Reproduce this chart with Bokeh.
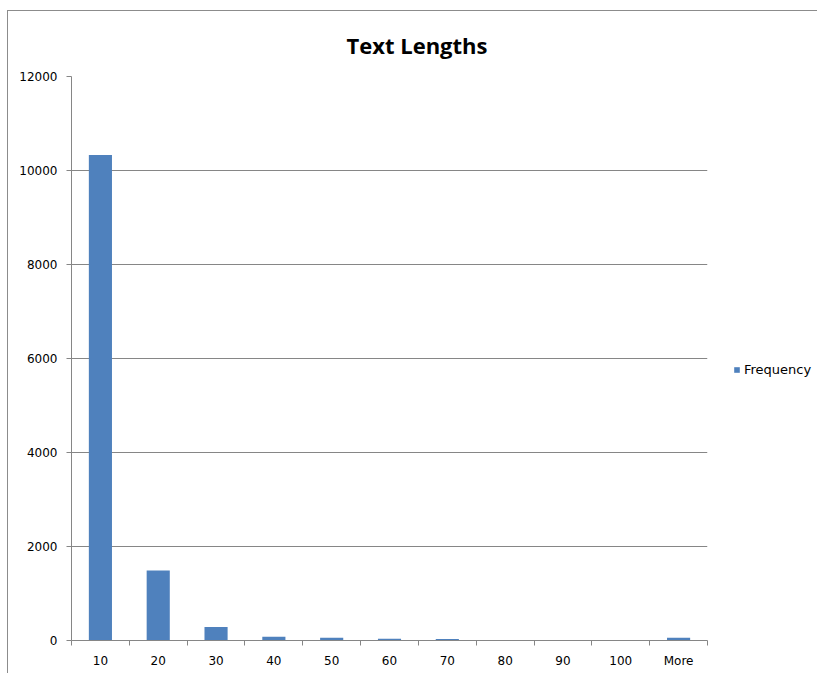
from bokeh.plotting import figure
from bokeh.models import (ColumnDataSource, Range1d, FixedTicker, Legend, LegendItem)
from bokeh.embed import file_html
from bokeh.resources import INLINE

# Histogram of text lengths (bin upper edges)
bins = ["10", "20", "30", "40", "50", "60", "70", "80", "90", "100", "More"]
frequency = [10330, 1490, 285, 80, 60, 35, 30, 0, 0, 0, 60]
y_ticks = [0, 2000, 4000, 6000, 8000, 10000, 12000]

GRAY = "#868686"
BLUE = "#4F81BD"
TICK_FONT = "DejaVu Sans"

centers = [i + 0.5 for i in range(len(bins))]
source = ColumnDataSource(dict(x=centers, top=frequency, label=bins))

p = figure(
    width=809, height=662,
    frame_width=636, frame_height=564,
    x_range=Range1d(0, len(bins)), y_range=Range1d(0, 12000),
    output_backend="svg", toolbar_location=None,
    min_border_left=63, min_border_right=110,
    min_border_top=65, min_border_bottom=33,
    title="Text Lengths",
)
p.styles = {
    "margin-left": "7px", "margin-top": "10px",
    "border-left": "1px solid #8c8c8c", "border-top": "1px solid #8c8c8c",
}
p.outline_line_color = None
p.background_fill_color = "white"
p.border_fill_color = "white"

p.title.align = "left"
p.title.offset = 275
p.title.standoff = 30
p.title.vertical_align = "top"
p.title.text_font = "Open Sans"
p.title.text_font_size = "22px"
p.title.text_font_style = "bold"
p.title.text_color = "black"

bars = p.vbar(x="x", top="top", width=0.4, source=source,
              fill_color=BLUE, line_color=None)

# x axis: labels at bin centres, tick marks at bin boundaries
xa = p.xaxis[0]
xa.ticker = FixedTicker(ticks=centers, minor_ticks=list(range(len(bins) + 1)))
xa.major_label_overrides = {c: b for c, b in zip(centers, bins)}
xa.major_tick_line_color = None
xa.major_tick_out = 0
xa.major_tick_in = 0
xa.minor_tick_line_color = GRAY
xa.minor_tick_out = 5
xa.minor_tick_in = 0
xa.axis_line_color = GRAY
xa.major_label_text_font = TICK_FONT
xa.major_label_text_font_size = "12px"
xa.major_label_text_color = "black"
xa.major_label_standoff = 8

ya = p.yaxis[0]
ya.ticker = FixedTicker(ticks=y_ticks)
ya.major_tick_line_color = GRAY
ya.major_tick_out = 5
ya.major_tick_in = 0
ya.minor_tick_line_color = None
ya.axis_line_color = GRAY
ya.major_label_text_font = TICK_FONT
ya.major_label_text_font_size = "12px"
ya.major_label_text_color = "black"
ya.major_label_standoff = 9

p.xgrid.grid_line_color = None
p.ygrid.grid_line_color = GRAY
p.ygrid.ticker = FixedTicker(ticks=y_ticks)

legend = Legend(items=[LegendItem(label="Frequency", renderers=[bars])],
                location=(26, 263), border_line_color=None,
                background_fill_alpha=0,
                glyph_width=7, glyph_height=7,
                label_text_font=TICK_FONT, label_text_font_size="13px",
                label_text_color="black", label_standoff=4,
                padding=0, margin=0)
p.add_layout(legend, "right")

open("out.html", "w").write(file_html(p, INLINE))
